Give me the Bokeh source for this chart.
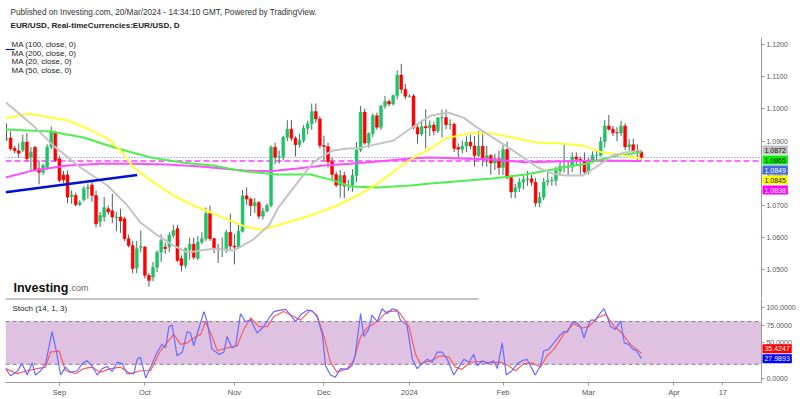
from bokeh.plotting import figure
from bokeh.models import (Range1d, LinearAxis, FixedTicker, NumeralTickFormatter, Label,
                          BoxAnnotation, ColumnDataSource)
from bokeh.layouts import column
from bokeh.embed import file_html
from bokeh.resources import INLINE

FONT = "Liberation Sans"

# ---------------- data ----------------
# daily candles, 15 Aug 2023 .. 20 Mar 2024 (bar index 0..156)
opens = [1.0906,1.0910,1.0878,1.0870,1.0872,1.0897,1.0850,1.0881,1.0814,1.0803,
         1.0819,1.0881,1.0928,1.0845,1.0795,1.0795,1.0728,1.0731,1.0703,1.0718,
         1.0752,1.0764,1.0731,1.0650,1.0664,1.0690,1.0684,1.0662,1.0664,1.0659,
         1.0597,1.0576,1.0506,1.0570,1.0571,1.0483,1.0477,1.0508,1.0555,1.0571,
         1.0571,1.0607,1.0628,1.0535,1.0514,1.0563,1.0580,1.0536,1.0586,1.0597,
         1.0675,1.0597,1.0566,1.0563,1.0566,1.0617,1.0574,1.0571,1.0620,1.0730,
         1.0720,1.0699,1.0709,1.0667,1.0683,1.0700,1.0881,1.0850,1.0852,1.0912,
         1.0937,1.0909,1.0889,1.0902,1.0940,1.0954,1.0992,1.0969,1.0886,1.0883,
         1.0836,1.0796,1.0763,1.0793,1.0761,1.0763,1.0793,1.0872,1.0990,1.0894,
         1.0923,1.0979,1.0943,1.1009,1.1023,1.1015,1.1041,1.1105,1.1061,1.1039,
         1.1040,1.0942,1.0922,1.0945,1.0941,1.0950,1.0931,1.0972,1.0973,1.0951,
         1.0952,1.0880,1.0875,1.0885,1.0897,1.0885,1.0855,1.0884,1.0845,1.0855,
         1.0832,1.0845,1.0818,1.0874,1.0787,1.0742,1.0755,1.0773,1.0781,1.0783,
         1.0772,1.0708,1.0726,1.0773,1.0777,1.0778,1.0808,1.0821,1.0822,1.0820,
         1.0851,1.0844,1.0838,1.0804,1.0838,1.0856,1.0856,1.0899,1.0947,1.0937,
         1.0926,1.0925,1.0947,1.0882,1.0889,1.0869,1.0866]
highs = [1.0955,1.0930,1.0885,1.0893,1.0920,1.0925,1.0882,1.0885,1.0840,1.0830,
         1.0890,1.0945,1.0932,1.0855,1.0807,1.0809,1.0747,1.0740,1.0716,1.0760,
         1.0768,1.0775,1.0746,1.0680,1.0726,1.0700,1.0736,1.0680,1.0690,1.0665,
         1.0610,1.0590,1.0590,1.0622,1.0574,1.0490,1.0525,1.0560,1.0611,1.0585,
         1.0617,1.0640,1.0640,1.0545,1.0570,1.0600,1.0600,1.0605,1.0617,1.0694,
         1.0700,1.0600,1.0580,1.0601,1.0625,1.0675,1.0611,1.0640,1.0748,1.0756,
         1.0725,1.0723,1.0714,1.0693,1.0707,1.0887,1.0895,1.0870,1.0917,1.0965,
         1.0965,1.0915,1.0923,1.0950,1.0964,1.1017,1.1017,1.0977,1.0917,1.0895,
         1.0849,1.0805,1.0810,1.0805,1.0780,1.0813,1.0897,1.1009,1.1000,1.0927,
         1.0986,1.0988,1.1012,1.1040,1.1030,1.1045,1.1120,1.1140,1.1077,1.1045,
         1.1046,1.0955,1.0966,1.0999,1.0964,1.0960,1.0975,1.0998,1.0998,1.0968,
         1.0958,1.0893,1.0901,1.0915,1.0920,1.0916,1.0932,1.0933,1.0885,1.0860,
         1.0860,1.0870,1.0888,1.0898,1.0795,1.0767,1.0785,1.0795,1.0807,1.0795,
         1.0785,1.0742,1.0786,1.0805,1.0789,1.0820,1.0835,1.0893,1.0838,1.0865,
         1.0865,1.0852,1.0865,1.0848,1.0868,1.0870,1.0913,1.0966,1.0981,1.0947,
         1.0943,1.0963,1.0955,1.0906,1.0907,1.0890,1.0870]
lows = [1.0900,1.0870,1.0862,1.0848,1.0866,1.0838,1.0808,1.0805,1.0766,1.0795,
        1.0810,1.0875,1.0836,1.0772,1.0770,1.0707,1.0705,1.0697,1.0698,1.0712,
        1.0721,1.0712,1.0632,1.0633,1.0650,1.0672,1.0645,1.0620,1.0615,1.0590,
        1.0570,1.0490,1.0490,1.0555,1.0473,1.0448,1.0465,1.0493,1.0525,1.0550,
        1.0555,1.0600,1.0525,1.0495,1.0505,1.0532,1.0532,1.0530,1.0580,1.0590,
        1.0590,1.0552,1.0522,1.0540,1.0553,1.0564,1.0517,1.0568,1.0616,1.0702,
        1.0667,1.0677,1.0658,1.0656,1.0679,1.0694,1.0828,1.0830,1.0840,1.0900,
        1.0900,1.0852,1.0880,1.0895,1.0921,1.0935,1.0957,1.0877,1.0840,1.0818,
        1.0777,1.0756,1.0724,1.0723,1.0745,1.0743,1.0773,1.0866,1.0889,1.0879,
        1.0912,1.0935,1.0935,1.1000,1.1008,1.1010,1.1030,1.1048,1.1030,1.1035,
        1.0937,1.0892,1.0915,1.0877,1.0915,1.0918,1.0925,1.0911,1.0937,1.0936,
        1.0866,1.0845,1.0862,1.0866,1.0876,1.0821,1.0850,1.0822,1.0820,1.0796,
        1.0810,1.0795,1.0795,1.0781,1.0723,1.0723,1.0742,1.0750,1.0761,1.0761,
        1.0696,1.0695,1.0717,1.0761,1.0761,1.0761,1.0793,1.0803,1.0793,1.0804,
        1.0823,1.0796,1.0795,1.0797,1.0831,1.0837,1.0852,1.0880,1.0932,1.0916,
        1.0899,1.0916,1.0872,1.0870,1.0860,1.0839,1.0843]
closes = [1.0908,1.0876,1.0870,1.0862,1.0897,1.0845,1.0866,1.0809,1.0803,1.0824,
          1.0881,1.0928,1.0840,1.0778,1.0780,1.0726,1.0733,1.0702,1.0709,1.0752,
          1.0756,1.0731,1.0643,1.0669,1.0694,1.0680,1.0664,1.0664,1.0652,1.0597,
          1.0576,1.0504,1.0566,1.0573,1.0483,1.0467,1.0508,1.0555,1.0591,1.0566,
          1.0607,1.0622,1.0529,1.0514,1.0566,1.0580,1.0539,1.0586,1.0597,1.0675,
          1.0597,1.0566,1.0563,1.0566,1.0617,1.0574,1.0571,1.0620,1.0730,1.0720,
          1.0699,1.0709,1.0667,1.0683,1.0700,1.0881,1.0850,1.0852,1.0912,1.0937,
          1.0909,1.0889,1.0902,1.0940,1.0954,1.0992,1.0969,1.0886,1.0883,1.0836,
          1.0796,1.0763,1.0793,1.0761,1.0763,1.0793,1.0872,1.0990,1.0894,1.0923,
          1.0979,1.0943,1.1009,1.1023,1.1015,1.1041,1.1105,1.1061,1.1039,1.1040,
          1.0942,1.0922,1.0945,1.0941,1.0950,1.0931,1.0972,1.0973,1.0951,1.0952,
          1.0877,1.0875,1.0885,1.0897,1.0885,1.0855,1.0884,1.0845,1.0855,1.0832,
          1.0845,1.0818,1.0874,1.0787,1.0742,1.0755,1.0773,1.0781,1.0783,1.0772,
          1.0708,1.0726,1.0773,1.0777,1.0778,1.0808,1.0821,1.0822,1.0820,1.0851,
          1.0844,1.0838,1.0804,1.0838,1.0856,1.0857,1.0899,1.0947,1.0937,1.0926,
          1.0925,1.0947,1.0882,1.0889,1.0869,1.0866,1.0849]

# moving averages (bar index, value)
ma20_idx = [-0.2,6.6,11.5,18.2,24.8,29.7,32.9,37.1,41.0,44.5,47.7,50.9,55.8,60.7,64.6,66.6,
            71.5,75.4,77.9,80.3,83.8,86.2,89.4,95.1,99.3,104.2,108.4,112.3,115.7,120.6,
            125.6,130.5,134.2,137.3,141.5,144.7,148.9,152.1,156]
ma20_val = [1.1021,1.0948,1.0886,1.0818,1.0762,1.0700,1.0647,1.0607,1.0576,1.0554,1.0560,
            1.0566,1.0560,1.0595,1.0640,1.0690,1.0771,1.0834,1.0855,1.0871,1.0877,1.0877,
            1.0886,1.0902,1.0939,1.0979,1.0989,1.0973,1.0942,1.0902,1.0861,1.0818,1.0799,
            1.0793,1.0793,1.0818,1.0855,1.0865,1.0872]
ma50_idx = [-0.2,5.2,10.8,15.0,19.9,24.8,28.0,31.2,35.4,41.0,45.9,50.9,55.0,59.2,63.1,
            68.1,74.7,81.3,86.2,91.2,96.1,100.0,104.2,107.9,113.5,119.4,124.3,130.0,
            135.6,141.5,146.4,150.4,156]
ma50_val = [1.0970,1.0986,1.0973,1.0964,1.0939,1.0908,1.0871,1.0818,1.0778,1.0731,1.0700,
            1.0675,1.0653,1.0632,1.0625,1.0644,1.0669,1.0700,1.0731,1.0768,1.0815,1.0849,
            1.0877,1.0908,1.0924,1.0924,1.0911,1.0896,1.0893,1.0886,1.0865,1.0858,1.0845]
ma100_idx = [-0.2,10.8,18.9,27.3,35.4,43.5,50.9,58.2,66.6,74.7,80.3,84.5,91.2,99.3,
             104.2,119.4,127.5,135.6,142.3,148.9,156]
ma100_val = [1.0936,1.0930,1.0911,1.0877,1.0849,1.0833,1.0824,1.0806,1.0796,1.0796,1.0778,
             1.0759,1.0756,1.0762,1.0768,1.0784,1.0796,1.0815,1.0830,1.0852,1.0865]
ma200_idx = [-0.2,6.6,15.0,23.1,31.2,39.6,47.7,58.2,64.9,71.5,77.9,84.5,91.2,99.3,104.2,
             119.4,127.5,135.6,144.0,156]
ma200_val = [1.0787,1.0809,1.0824,1.0830,1.0830,1.0827,1.0821,1.0809,1.0806,1.0815,1.0824,
             1.0830,1.0837,1.0846,1.0849,1.0843,1.0834,1.0837,1.0840,1.0838]

# hand-drawn trend line
trend_idx = [-0.2, 32.1]
trend_val = [1.0741, 1.0795]

# stochastic (14, 1, 3)
k_idx = [-0.2,1.0,2.6,3.8,5.1,6.3,7.1,8.4,9.6,11.2,12.4,13.3,14.5,15.7,17.4,18.6,19.8,21.0,
         22.3,23.5,24.7,26.0,27.2,28.4,29.6,31.3,32.1,32.9,34.2,35.8,37.0,38.2,39.1,39.9,
         40.7,41.9,43.2,44.4,45.2,46.0,47.3,48.5,49.3,50.5,52.2,53.4,54.2,55.4,56.3,57.5,
         58.7,60.0,61.6,63.2,64.5,65.7,67.3,68.6,69.8,71.0,72.6,73.9,75.1,76.3,77.6,78.4,
         79.6,80.8,82.1,83.7,84.9,85.7,87.0,87.8,89.0,89.8,91.1,92.3,93.5,94.8,96.0,96.8,
         98.4,99.7,100.9,102.1,103.4,104.6,105.8,107.0,108.3,109.9,111.1,112.4,113.6,114.8,
         115.7,116.9,118.1,119.7,120.6,121.8,122.8,124.2,125.5,126.7,127.9,129.1,129.9,131.2,
         132.0,133.2,134.5,135.7,136.9,137.8,139.0,140.2,141.1,141.9,142.7,143.5,144.7,145.5,
         146.8,147.6,148.4,149.6,150.9,151.8,152.9,153.7,154.8,156]
k_val = [14,4,10,21,5,22,5,11,21,66,34,5,16,9,11,21,25,18,5,14,17,10,23,21,7,7,27,30,1,21,
         37,48,43,73,75,32,37,66,64,46,71,94,80,41,34,37,59,43,46,91,80,82,64,73,85,94,96,97,
         89,80,91,96,95,87,62,18,5,2,14,13,18,34,91,59,69,89,80,98,91,98,96,82,75,27,14,21,27,
         23,37,37,27,5,16,27,23,34,18,25,21,25,14,50,5,11,21,25,27,14,5,18,39,41,50,59,66,65,
         79,78,72,57,71,82,82,89,98,87,73,69,81,50,48,42,39,27.9893]
d_idx = [-0.2,2.6,5.1,7.5,9.6,10.8,12.9,14.5,17.0,19.0,21.0,23.1,25.6,28.0,30.5,32.9,35.4,
         37.8,41.1,42.8,44.4,46.0,47.7,48.9,50.5,51.8,54.2,56.7,58.3,60.0,62.0,64.0,65.7,
         68.1,70.6,72.2,74.7,76.3,78.0,79.6,81.2,83.7,85.3,87.0,88.6,91.1,93.5,96.0,96.8,
         98.9,100.5,101.7,104.2,106.6,108.7,110.3,111.9,114.0,116.5,118.9,121.4,123.4,125.1,
         127.1,129.1,131.2,132.8,134.5,136.9,139.4,141.4,143.1,145.1,147.2,149.2,151.2,153.3,156]
d_val = [14,7,11,14,16,37,39,11,7,14,16,9,14,16,7,11,11,39,62,48,50,57,62,80,59,39,43,46,69,
         85,73,73,87,94,87,82,96,89,59,23,9,14,25,59,71,80,94,95,91,73,34,21,25,32,30,16,13,
         23,24,22,23,18,11,21,22,16,32,41,62,77,71,73,85,90,74,64,48,35.4247]

# axis ticks
price_ticks = [1.05, 1.06, 1.07, 1.08, 1.09, 1.10, 1.11, 1.12]
stoch_ticks = [0, 25, 50, 75, 100]
month_idx = [13, 34, 56, 78, 99, 122, 143, 164, 176]
month_lbl = ["Sep", "Oct", "Nov", "Dec", "2024", "Feb", "Mar", "Apr", "17"]

# ---------------- layout constants ----------------
W = 800
LB = 5                         # left border (px)
X0, XEND = -0.246, 195.09      # bar-index range covering x = 5 .. 800 px
AXIS_X = 185.5                 # bar-index position of the price scale (x = 761 px)
PY0, PY1 = 1.041118, 1.133665  # price range of the 298px top panel
SY0, SY1 = -5.48, 112.33       # stoch range of the 86px lower frame
H1, H2 = 298, 101
SEP_END = 116.0

xr = Range1d(X0, XEND)

def base(height, yr, bottom):
    f = figure(width=W, height=height, x_range=xr, y_range=yr, output_backend="svg",
               toolbar_location=None, x_axis_location=None, y_axis_location=None,
               min_border_left=LB, min_border_right=0, min_border_top=0,
               min_border_bottom=bottom)
    f.grid.visible = False
    f.outline_line_color = None
    f.background_fill_color = "white"
    f.border_fill_color = "white"
    return f

def style_axis(ax):
    ax.axis_line_color = "#9a9a9a"
    ax.major_tick_line_color = "#9a9a9a"
    ax.minor_tick_line_color = None
    ax.major_tick_in = 0
    ax.major_tick_out = 3
    ax.major_label_standoff = 2
    ax.major_label_text_color = "#555555"
    ax.major_label_text_font = FONT
    ax.major_label_text_font_size = "7px"

def txt(fig, ytop, xpx, ypx, text, size, color="#333333", style="normal",
        baseline="middle"):
    # place text at window pixel (xpx, ypx); ytop = data value at the panel's top edge
    fig.add_layout(Label(x=X0, y=ytop, x_offset=xpx - LB, y_offset=-ypx, text=text,
                         text_font=FONT, text_font_size=size, text_color=color,
                         text_font_style=style, text_baseline=baseline))

def tag(fig, y, yoff, text, bg, fg):
    fig.add_layout(Label(x=AXIS_X, y=y, x_offset=1, y_offset=yoff, text=text,
                         text_font=FONT, text_font_size="7px", text_color=fg,
                         text_baseline="middle", text_align="left",
                         background_fill_color=bg, background_fill_alpha=1.0,
                         padding=2, level="overlay"))

# ---------------- main price panel ----------------
p1 = base(H1, Range1d(PY0, PY1), 0)
pax = LinearAxis(ticker=FixedTicker(ticks=price_ticks), fixed_location=AXIS_X,
                 formatter=NumeralTickFormatter(format="0.0000"), bounds=(PY0, 1.12217))
style_axis(pax)
p1.add_layout(pax, "right")

idx = list(range(len(closes)))
up = [c >= o for o, c in zip(opens, closes)]
src = ColumnDataSource(dict(
    i=idx, h=highs, l=lows,
    top=[max(o, c) for o, c in zip(opens, closes)],
    bot=[min(o, c) for o, c in zip(opens, closes)],
    col=["#20c268" if u else "#ff0000" for u in up],
    wick=["#3f7355" if u else "#5a5a5a" for u in up],
))

# price lines (last close, MA200 level) across the chart
p1.segment(x0=[X0], x1=[AXIS_X], y0=[closes[-1]], y1=[closes[-1]], line_color="#6f73ff",
           line_dash="1 2", line_width=1)
p1.segment(x0=[X0], x1=[AXIS_X], y0=[ma200_val[-1]], y1=[ma200_val[-1]],
           line_color="#ff40ff", line_dash="6 3", line_width=1.5)

p1.segment(x0="i", y0="l", x1="i", y1="h", line_color="wick", line_width=1, source=src)
p1.vbar(x="i", width=0.72, top="top", bottom="bot", fill_color="col", line_color="col",
        line_width=0.5, source=src)

p1.line(ma200_idx, ma200_val, line_color="#ff4dff", line_width=2)
p1.line(ma100_idx, ma100_val, line_color="#4ef04e", line_width=2)
p1.line(ma50_idx, ma50_val, line_color="#ffff33", line_width=2)
p1.line(ma20_idx, ma20_val, line_color="#c4c4c4", line_width=2)
p1.line(trend_idx, trend_val, line_color="#0010d0", line_width=2.5)

txt(p1, PY1, 10, 11.5, "Published on Investing.com, 20/Mar/2024 - 14:34:10 GMT, Powered by TradingView.", "8.2px")
txt(p1, PY1, 10, 25, "EUR/USD, Real-timeCurrencies:EUR/USD, D", "8.1px", "#222222", "bold")
legend_lines = ["MA (100, close, 0)", "MA (200, close, 0)", "MA (20, close, 0)", "MA (50, close, 0)"]
for k, t in enumerate(legend_lines):
    txt(p1, PY1, 11, 44 + 8.5 * k, t, "8px", "#222222")
txt(p1, PY1, 5, 48, "\u2014", "9px", "#0010d0", "bold")
txt(p1, PY1, 13, 287, "Investing", "12.5px", "#111111", "bold", "alphabetic")
txt(p1, PY1, 68.5, 287, ".com", "9px", "#666666", "normal", "alphabetic")

# value tags at the price scale (stacked downward from the topmost one)
tags = [(ma20_val[-1], "#c0c0c0", "#111111"), (ma100_val[-1], "#00f000", "#111111"),
        (closes[-1], "#4169e1", "#ffffff"), (ma50_val[-1], "#ffff00", "#111111"),
        (ma200_val[-1], "#ff00ff", "#ffffff")]
for k, (v, bg, fg) in enumerate(tags):
    tag(p1, tags[0][0], -10 * k, f"{v:.4f}", bg, fg)

# ---------------- stochastic panel ----------------
p2 = base(H2, Range1d(SY0, SY1), 15)
sax = LinearAxis(ticker=FixedTicker(ticks=stoch_ticks), fixed_location=AXIS_X,
                 formatter=NumeralTickFormatter(format="0.0000"))
style_axis(sax)
p2.add_layout(sax, "right")
xax = LinearAxis(ticker=FixedTicker(ticks=month_idx), bounds=(X0, AXIS_X),
                 major_label_overrides={t: l for t, l in zip(month_idx, month_lbl)})
style_axis(xax)
xax.major_label_text_font_size = "7.5px"
p2.add_layout(xax, "below")

p2.add_layout(BoxAnnotation(bottom=20, top=80, right=AXIS_X, fill_color="#dfc2e1",
                            fill_alpha=1, line_alpha=0, level="underlay"))
for lv in (20, 80):
    p2.segment(x0=[X0], x1=[AXIS_X], y0=[lv], y1=[lv], line_color="#8a7a8c",
               line_dash="4 3", line_width=1)
p2.segment(x0=[X0], x1=[SEP_END], y0=[SY1 - 0.5], y1=[SY1 - 0.5], line_color="#555555",
           line_width=1)

p2.line(d_idx, d_val, line_color="#ff5a5a", line_width=1.2)
p2.line(k_idx, k_val, line_color="#6b6bff", line_width=1.2)

txt(p2, SY1, 12, 308 - H1, "Stoch (14, 1, 3)", "8px", "#222222")
tag(p2, k_val[-1], 10, f"{d_val[-1]:.4f}", "#ff0000", "#ffffff")
tag(p2, k_val[-1], 0, f"{k_val[-1]:.4f}", "#0000ff", "#ffffff")

layout = column(p1, p2, spacing=0)
open("out.html", "w").write(file_html(layout, INLINE))
